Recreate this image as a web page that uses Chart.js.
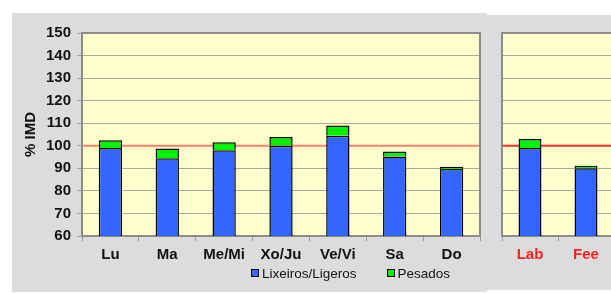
<!DOCTYPE html>
<html>
<head>
<meta charset="utf-8">
<script src="https://cdn.jsdelivr.net/npm/chart.js@4.4.1/dist/chart.umd.min.js"></script>
<style>
  html, body { margin: 0; padding: 0; background: #fff; width: 611px; height: 293px; overflow: hidden; }
  .panel { position: absolute; background: #dcdcdc; }
  #leftPanel { left: 12px; top: 13px; width: 475px; height: 279px; }
  #rightPanel { left: 487px; top: 15px; width: 140px; height: 275px; }
  .box { position: absolute; }
  #leftBox { left: 12px; top: 13px; width: 475px; height: 279px; }
  #rightBox { left: 487px; top: 13px; width: 140px; height: 279px; }
  #legend { position: absolute; left: 251px; top: 265px; height: 16px; display: flex; align-items: center;
    font: 13.5px 'Liberation Sans', Arial, sans-serif; color: #111; }
  #legend .item { display: flex; align-items: center; }
  #legend .item + .item { margin-left: 30px; }
  #legend .sw { width: 6px; height: 6px; border: 1px solid #000; margin-right: 3px; }
</style>
</head>
<body>
<div class="panel" id="leftPanel"></div>
<div class="panel" id="rightPanel"></div>
<div class="box" id="leftBox"><canvas id="semana"></canvas></div>
<div class="box" id="rightBox"><canvas id="festivos"></canvas></div>
<div id="legend"></div>
<script>
const days = ['Lu', 'Ma', 'Me/Mi', 'Xo/Ju', 'Ve/Vi', 'Sa', 'Do'];
const ligeros = [99, 94.5, 98, 100, 104.5, 95.3, 89.7];
const pesados = [3.5, 4.3, 3.6, 3.9, 4.5, 2.2, 1.0];
const festivos = ['Lab', 'Fee'];
const ligerosFest = [99, 90];
const pesadosFest = [4, 1.2];
const refLine = 100;
const yMin = 60, yMax = 150, yStep = 10;

const getById = label => document.getElementById(label);
const font = 'Liberation Sans, Arial, sans-serif';
const blue = '#3366ff', green = '#00f000';

// yellow plot area, red 100% line and grey frame
const plotDeco = {
  id: 'plotDeco',
  beforeDraw(chart) {
    const {ctx, chartArea: a} = chart;
    ctx.save();
    ctx.fillStyle = '#ffffcc';
    ctx.fillRect(a.left, a.top, a.right - a.left, a.bottom - a.top);
    ctx.restore();
  },
  beforeDatasetsDraw(chart, args, opts) {
    const {ctx, chartArea: a, scales} = chart;
    const y = scales.y.getPixelForValue(refLine);
    ctx.save();
    ctx.strokeStyle = opts.lineColor;
    ctx.lineWidth = 2;
    ctx.beginPath();
    ctx.moveTo(a.left, y);
    ctx.lineTo(a.right, y);
    ctx.stroke();
    ctx.strokeStyle = '#8c8c8c';
    ctx.lineWidth = 2;
    ctx.strokeRect(a.left, a.top, a.right - a.left, a.bottom - a.top);
    ctx.restore();
  }
};

const addChart = (id, labels, light, heavy, opts) => {
  return new Chart(getById(id).getContext('2d'), {
    type: 'bar',
    data: {
      labels: labels,
      datasets: [
        { label: 'Lixeiros/Ligeros', data: light, backgroundColor: blue, borderColor: '#000', borderWidth: 1.5,
          barPercentage: 0.41, categoryPercentage: 1 },
        { label: 'Pesados', data: heavy, backgroundColor: green, borderColor: '#000', borderWidth: 1.5,
          barPercentage: 0.41, categoryPercentage: 1 }
      ]
    },
    options: {
      responsive: true,
      maintainAspectRatio: false,
      animation: false,
      layout: { padding: opts.padding },
      plugins: {
        legend: { display: false },
        tooltip: { enabled: false },
        plotDeco: { lineColor: opts.lineColor }
      },
      scales: {
        x: {
          stacked: true,
          afterFit: s => { s.height = 30; },
          grid: { display: true, offset: true, drawOnChartArea: false, drawTicks: true, tickLength: 5, color: '#9a9a9a' },
          border: { display: false },
          ticks: { color: opts.xColor, padding: 5, font: { family: font, size: 15, weight: 'bold' } }
        },
        y: {
          stacked: true,
          min: yMin,
          max: yMax,
          afterFit: s => { s.width = opts.yWidth; },
          grid: { color: '#a9a99c', lineWidth: 1, drawTicks: opts.showY, tickLength: 5 },
          border: { display: false },
          ticks: { display: opts.showY, stepSize: yStep, color: '#111', padding: 6,
            font: { family: font, size: 15, weight: 'bold' } },
          title: { display: opts.showY, text: '% IMD', color: '#111', padding: { top: 10, bottom: 0 },
            font: { family: font, size: 15, weight: 'bold' } }
        }
      }
    },
    plugins: [plotDeco]
  });
};

const semana = addChart('semana', days, ligeros, pesados, {
  padding: { left: 0, right: 7, top: 20, bottom: 26 },
  yWidth: 70,
  showY: true,
  xColor: '#111',
  lineColor: '#ff8272'
});

addChart('festivos', festivos, ligerosFest, pesadosFest, {
  padding: { left: 0, right: 13, top: 20, bottom: 26 },
  yWidth: 15,
  showY: false,
  xColor: '#ff2020',
  lineColor: '#ff2a2a'
});

// html legend built from the chart's own legend items
const legendBox = getById('legend');
Chart.defaults.plugins.legend.labels.generateLabels(semana).forEach(item => {
  const el = document.createElement('span');
  el.className = 'item';
  const sw = document.createElement('span');
  sw.className = 'sw';
  sw.style.background = item.fillStyle;
  el.appendChild(sw);
  el.appendChild(document.createTextNode(item.text));
  legendBox.appendChild(el);
});
</script>
</body>
</html>
